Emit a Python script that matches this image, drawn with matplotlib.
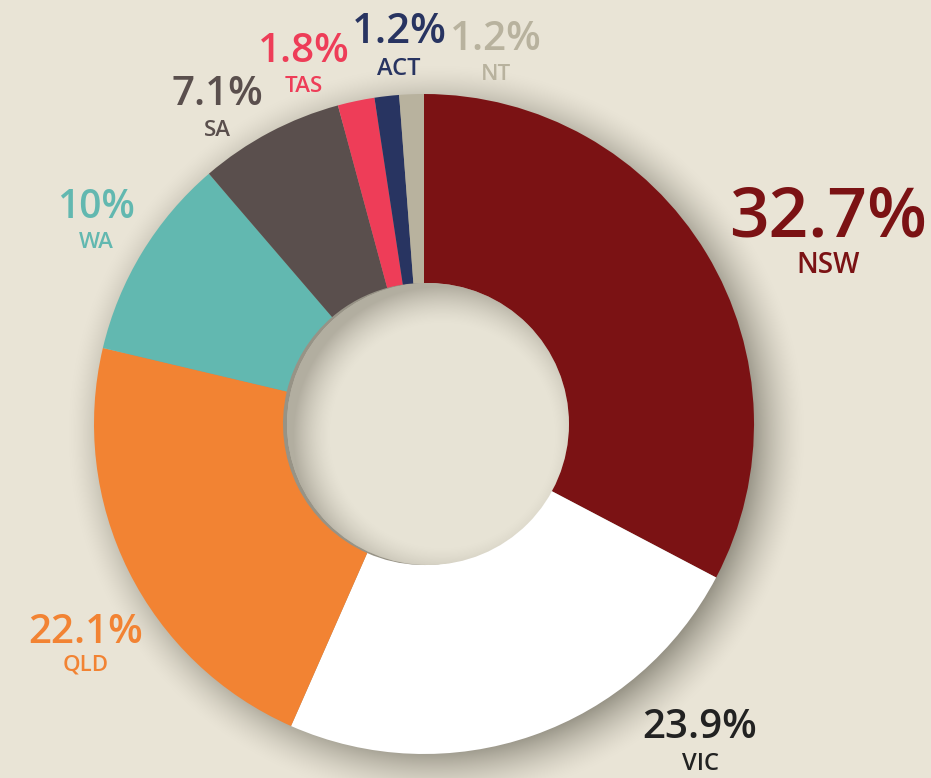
import numpy as np
import matplotlib.pyplot as plt
from matplotlib.patches import Circle

# data
states = ['NSW', 'VIC', 'QLD', 'WA', 'SA', 'TAS', 'ACT', 'NT']
shares = [32.7, 23.9, 22.1, 10.0, 7.1, 1.8, 1.2, 1.2]
pct_labels = ['32.7%', '23.9%', '22.1%', '10%', '7.1%', '1.8%', '1.2%', '1.2%']
colors = ['#7b1214', '#ffffff', '#f28333', '#62b8b0', '#5a4f4d', '#ee3d58', '#283461', '#b8b29e']
text_colors = ['#7b1214', '#222222', '#f28333', '#62b8b0', '#5a4f4d', '#ee3d58', '#283461', '#b8b29e']

# layout (pixel coords, y from top = baselines)
lab_x = [828, 700, 86, 96, 217, 304, 399, 496]
pct_base = [236, 738, 643, 218, 105, 62, 43, 50]
name_base = [273, 770, 671, 248, 136, 92, 75, 80]
big_fs = [50, 29, 29, 28, 29, 29, 30, 29]
small_fs = [20, 17, 16, 16, 16, 16, 17, 16]

W, H = 931, 778
bg = '#e9e4d6'
cx, cy = 424, H - 424
R, r = 330, 141

plt.rcParams['font.family'] = ['Open Sans', 'DejaVu Sans']

fig = plt.figure(figsize=(W / 100, H / 100), dpi=100, facecolor=bg)
ax = fig.add_axes([0, 0, 1, 1])

# drop shadow under the ring
xx, yy = np.meshgrid(np.arange(W), np.arange(H))
d = np.hypot(xx - (cx + 12), yy - (cy - 10))
a = np.clip((R + 40 - d) / 55, 0, 1) ** 1.6 * 0.65
sh = np.zeros((H, W, 4))
sh[..., 0] = 0.42
sh[..., 1] = 0.41
sh[..., 2] = 0.36
sh[..., 3] = a
ax.imshow(sh, extent=(0, W, 0, H), origin='lower', zorder=0)

ax.pie(shares, colors=colors, radius=R, center=(cx, cy), startangle=90,
       counterclock=False, wedgeprops=dict(width=R - r, linewidth=0),
       frame=True)
ax.set_xlim(0, W)
ax.set_ylim(0, H)
ax.set_aspect('equal')
ax.axis('off')

# hole with inner shadow
hcx = cx + 4
hole = Circle((hcx, cy), r, facecolor='#e7e3d5', edgecolor='none', zorder=3)
ax.add_patch(hole)
d2 = np.hypot(xx - (hcx + 14), yy - (cy - 12))
a2 = np.clip((d2 - (r - 30)) / 38, 0, 1) ** 1.5 * 0.45
ish = np.zeros((H, W, 4))
ish[..., 0] = 0.45
ish[..., 1] = 0.43
ish[..., 2] = 0.38
ish[..., 3] = a2
im = ax.imshow(ish, extent=(0, W, 0, H), origin='lower', zorder=4)
im.set_clip_path(Circle((hcx, cy), r, transform=ax.transData))

for i in range(len(states)):
    ax.text(lab_x[i], H - pct_base[i], pct_labels[i], color=text_colors[i],
            fontsize=big_fs[i], fontweight='semibold', ha='center', va='baseline', zorder=6)
    ax.text(lab_x[i], H - name_base[i], states[i], color=text_colors[i],
            fontsize=small_fs[i], fontweight='semibold', ha='center', va='baseline', zorder=6)

plt.savefig('out.png', dpi=100, facecolor=bg)
